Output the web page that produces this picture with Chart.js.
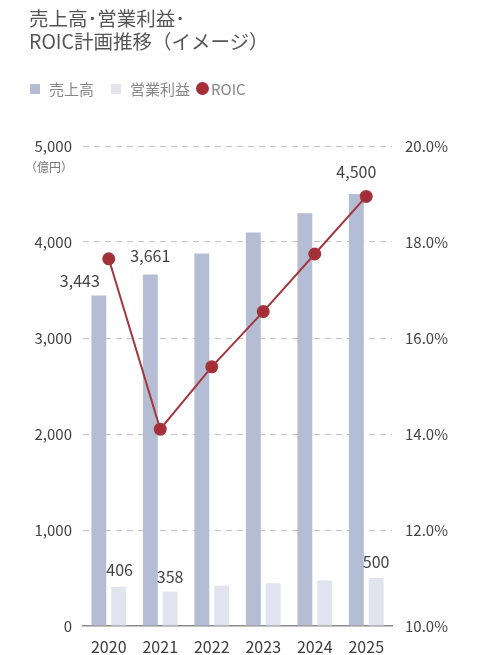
<!DOCTYPE html>
<html lang="ja">
<head>
<meta charset="utf-8">
<title>売上高・営業利益・ROIC計画推移</title>
<script src="https://cdn.jsdelivr.net/npm/chart.js@4/dist/chart.umd.min.js"></script>
<style>
  html, body { margin: 0; padding: 0; background: #fff; }
  body { width: 477px; height: 655px; position: relative; overflow: hidden;
         font-family: "Noto Sans CJK JP", "Noto Sans", sans-serif; }
  #titulo { position: absolute; left: 29px; top: 6px; font-size: 19.5px; line-height: 23px; color: #555; }
  #legenda { position: absolute; left: 30px; top: 78px; font-size: 15px; color: #888; display: flex; align-items: center; }
  #legenda span.caixa { display: inline-block; width: 10px; height: 10px; margin-right: 9px; }
  #legenda span.bola { display: inline-block; width: 13px; height: 13px; border-radius: 50%; margin-right: 2px; }
  #legenda span.item { margin-right: 17px; }
  #grafico { position: absolute; left: 0; top: 0; }
</style>
</head>
<body>
<canvas id="grafico" width="477" height="655"></canvas>
<div id="titulo">売上高･営業利益･<br>ROIC計画推移（イメージ）</div>
<div id="legenda">
  <span class="caixa" style="background:#b4bdd3"></span><span class="item">売上高</span>
  <span class="caixa" style="background:#e1e3ef"></span><span class="item" style="margin-right:6px">営業利益</span>
  <span class="bola" style="background:#a52d35"></span><span>ROIC</span>
</div>
<script>
/* Dados do gráfico */
const anos = ['2020', '2021', '2022', '2023', '2024', '2025'];
const vendas = [3443, 3661, 3880, 4100, 4300, 4500];     // 売上高 (億円)
const lucroOperacional = [406, 358, 420, 445, 475, 500];  // 営業利益 (億円)
const roic = [17.65, 14.1, 15.4, 16.55, 17.75, 18.95];    // ROIC (%)

// Rótulos de valor exibidos no gráfico: [dataset, índice, texto]
const rotulos = [
  [0, 0, '3,443'], [0, 1, '3,661'], [0, 5, '4,500'],
  [1, 0, '406'], [1, 1, '358'], [1, 5, '500']
];
// Deslocamento de cada rótulo em relação ao topo da barra
const deslocamentos = [[-19, -15], [0, -19], [0, -22], [1, -17], [0, -15], [0, -16]];

const fonte = '"Noto Sans CJK JP", "Noto Sans", sans-serif';

/**
 * Plugin simples para escrever os valores e a unidade (億円).
 */
const pluginRotulos = {
  id: 'rotulos',
  afterDatasetsDraw(chart) {
    const ctx = chart.ctx;
    ctx.save();
    ctx.fillStyle = '#444';
    ctx.font = '16px ' + fonte;
    ctx.textAlign = 'center';
    ctx.textBaseline = 'middle';
    rotulos.forEach(([ds, i, texto], k) => {
      const el = chart.getDatasetMeta(ds).data[i];
      ctx.fillText(texto, el.x + deslocamentos[k][0], el.y + deslocamentos[k][1]);
    });

    // Unidade abaixo do 5,000
    const yEsq = chart.scales.yEsq;
    ctx.fillStyle = '#777';
    ctx.font = '12px ' + fonte;
    ctx.textAlign = 'right';
    ctx.fillText('（億円）', yEsq.right - 10, yEsq.getPixelForValue(5000) + 21);
    ctx.restore();
  }
};

function initGrafico() {
  if (typeof Chart === 'undefined') {
    console.warn('Chart.js não está disponível.');
    return;
  }
  const ctx = document.getElementById('grafico');

  new Chart(ctx, {
    type: 'bar',
    data: {
      labels: anos,
      datasets: [
        {
          label: '売上高', data: vendas, yAxisID: 'yEsq', order: 1,
          backgroundColor: '#b4bdd3',
          categoryPercentage: 0.77, barPercentage: 0.75
        },
        {
          label: '営業利益', data: lucroOperacional, yAxisID: 'yEsq', order: 1,
          backgroundColor: '#e1e3ef',
          categoryPercentage: 0.77, barPercentage: 0.75
        },
        {
          type: 'line', label: 'ROIC', data: roic, yAxisID: 'yDir', order: 0,
          borderColor: '#a2363c', backgroundColor: '#a52d35',
          borderWidth: 2, pointRadius: 5.5, pointHoverRadius: 5.5,
          tension: 0
        }
      ]
    },
    options: {
      responsive: false,
      animation: false,
      layout: { padding: { top: 146, left: 0, right: 0, bottom: 0 } },
      plugins: {
        legend: { display: false },
        tooltip: { enabled: false }
      },
      scales: {
        x: {
          grid: { display: false },
          border: { display: true, color: '#8a8a8a', width: 1.5 },
          ticks: { color: '#3c3c3c', font: { family: fonte, size: 16 }, padding: 3 },
          afterFit(scale) { scale.height = 29; }
        },
        yEsq: {
          position: 'left',
          min: 0, max: 5000,
          grid: {
            drawTicks: false,
            color: c => (c.tick.value === 0 ? 'rgba(0,0,0,0)' : '#c4c4c4'),
            lineWidth: 1
          },
          border: { display: false, dash: [6, 5] },
          ticks: {
            stepSize: 1000, padding: 11, color: '#444',
            font: { family: fonte, size: 15 },
            callback: v => v.toLocaleString('en-US')
          },
          afterFit(scale) { scale.width = 83; }
        },
        yDir: {
          position: 'right',
          min: 10, max: 20,
          grid: { drawOnChartArea: false, drawTicks: false },
          border: { display: false },
          ticks: {
            stepSize: 2, padding: 13, color: '#444',
            font: { family: fonte, size: 15 },
            callback: v => v.toFixed(1) + '%'
          },
          afterFit(scale) { scale.width = 85; }
        }
      }
    },
    plugins: [pluginRotulos]
  });
}

initGrafico();
</script>
</body>
</html>
